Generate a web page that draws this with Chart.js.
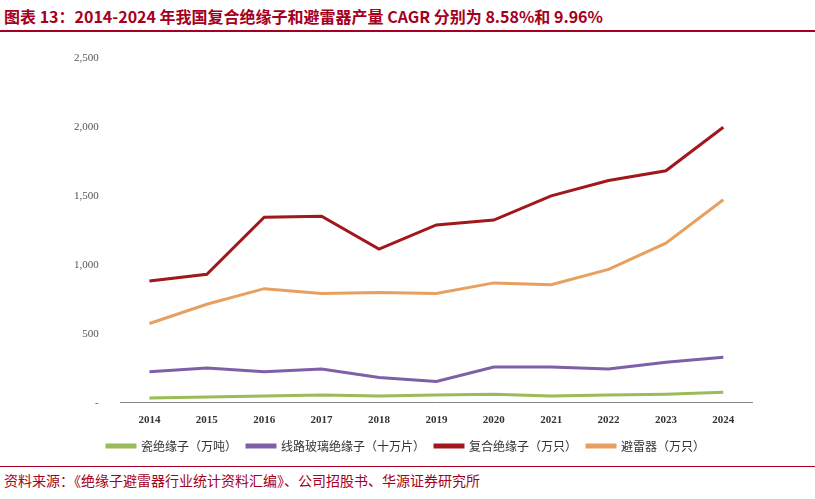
<!DOCTYPE html>
<html><head><meta charset="utf-8">
<script src="https://cdn.jsdelivr.net/npm/chart.js@4"></script>
<style>
body{margin:0;width:815px;height:499px;background:#fff;font-family:"Noto Sans CJK SC";position:relative;overflow:hidden}
#title{position:absolute;left:4px;top:4px;font-size:16px;font-weight:bold;color:#a50021;white-space:nowrap}
#l1{position:absolute;left:0;top:30px;width:815px;height:2px;background:#a50021}
#l2{position:absolute;left:0;top:466px;width:815px;height:1px;background:#a50021}
#src{position:absolute;left:4px;top:470px;font-size:14px;color:#a50021;white-space:nowrap}
#wrap{position:absolute;left:60px;top:38px;width:700px;height:424px}
</style></head><body>
<div id="title">图表 13：2014-2024 年我国复合绝缘子和避雷器产量 CAGR 分别为 8.58%和 9.96%</div>
<div id="l1"></div>
<div id="wrap"><canvas id="c"></canvas></div>
<div id="l2"></div>
<div id="src">资料来源：《绝缘子避雷器行业统计资料汇编》、公司招股书、华源证券研究所</div>
<script>
const years=['2014','2015','2016','2017','2018','2019','2020','2021','2022','2023','2024'];
const ciJueYuanZi=[35,42,49,56,49,56,63,49,56,63,77];
const boLiJueYuanZi=[225,253,225,246,183,155,260,260,246,295,330];
const fuHeJueYuanZi=[885,934,1348,1355,1117,1292,1327,1503,1615,1685,2001];
const biLeiQi=[576,716,829,794,801,794,871,857,969,1159,1475];
const mk=(l,d,c)=>({label:l,data:d,borderColor:c,backgroundColor:c,borderWidth:3,pointRadius:0,tension:0});
new Chart(document.getElementById('c'),{type:'line',
data:{labels:years,datasets:[mk('瓷绝缘子（万吨）',ciJueYuanZi,'#9bbb59'),mk('线路玻璃绝缘子（十万片）',boLiJueYuanZi,'#7f5fa8'),mk('复合绝缘子（万只）',fuHeJueYuanZi,'#a0181c'),mk('避雷器（万只）',biLeiQi,'#e8a060')]},
options:{responsive:true,maintainAspectRatio:false,animation:false,
layout:{padding:{left:0,right:8,top:0}},
plugins:{legend:{position:'bottom',labels:{boxWidth:28,boxHeight:2,color:'#333',font:{family:'Noto Sans CJK SC',size:12}}}},
scales:{x:{offset:true,grid:{display:false},border:{color:'#888'},ticks:{color:'#333',font:{family:'Liberation Serif',size:11,weight:'bold'}}},
y:{min:0,max:2500,grid:{display:false},border:{display:false},
ticks:{stepSize:500,padding:14,color:'#555',font:{family:'Liberation Serif',size:11},callback:v=>v===0?'-':v.toLocaleString('en-US')}}}}});
</script></body></html>
